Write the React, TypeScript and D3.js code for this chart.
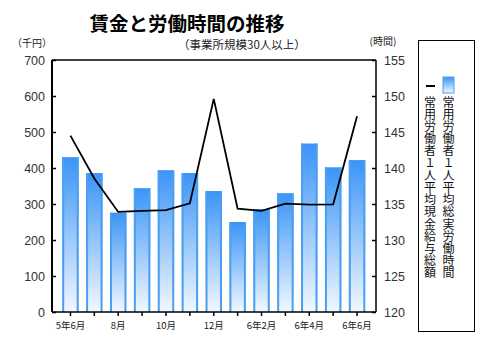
import React, { useRef, useEffect } from "react";
import * as d3 from "d3";

// months shown on the x axis (13 months)
const months = ["5年6月", "7月", "8月", "9月", "10月", "11月", "12月", "6年1月", "6年2月", "3月", "6年4月", "5月", "6年6月"];
const shownLabels = ["5年6月", "8月", "10月", "12月", "6年2月", "6年4月", "6年6月"];
const hours = [141.5, 139.3, 133.8, 137.2, 139.7, 139.3, 136.8, 132.5, 134.3, 136.5, 143.4, 140.1, 141.1];
const wages = [490, 371, 278, 281, 283, 302, 592, 287, 281, 301, 298, 299, 544];
const leftTicks = [0, 100, 200, 300, 400, 500, 600, 700];
const rightTicks = [120, 125, 130, 135, 140, 145, 150, 155];

const JP = "'Noto Sans CJK JP', 'Noto Sans', sans-serif";
const NUM = "'Liberation Sans', Arial, sans-serif";

const App = () => {
  const svgRef = useRef<SVGSVGElement>(null);

  useEffect(() => {
    const svg = d3.select(svgRef.current);
    svg.selectAll("*").remove();

    const left = 52, right = 376, top = 60, bottom = 312;

    const x = d3.scaleBand().domain(months).range([58.5, 369]).paddingInner(0.31).paddingOuter(0.155);
    const yL = d3.scaleLinear().domain([0, 700]).range([bottom, top]);
    const yR = d3.scaleLinear().domain([120, 155]).range([bottom, top]);

    const defs = svg.append("defs");
    const grad = defs.append("linearGradient").attr("id", "barGrad")
      .attr("x1", 0).attr("y1", 0).attr("x2", 0).attr("y2", 1);
    grad.append("stop").attr("offset", "0%").attr("stop-color", "#3a94f6");
    grad.append("stop").attr("offset", "100%").attr("stop-color", "#f2f8ff");

    // title
    svg.append("text").attr("x", 187).attr("y", 30.5).attr("text-anchor", "middle")
      .attr("font-family", JP).attr("font-weight", "bold").attr("font-size", 19.5)
      .attr("fill", "#000").text("賃金と労働時間の推移");
    svg.append("text").attr("x", 242).attr("y", 48.5).attr("text-anchor", "middle")
      .attr("font-family", JP).attr("font-size", 11.5).attr("fill", "#222").text("（事業所規模30人以上）");
    svg.append("text").attr("x", 32).attr("y", 47).attr("text-anchor", "middle")
      .attr("font-family", JP).attr("font-size", 10).attr("fill", "#222").text("（千円）");
    svg.append("text").attr("x", 383).attr("y", 45).attr("text-anchor", "middle")
      .attr("font-family", JP).attr("font-size", 10).attr("fill", "#222").text("(時間)");

    // bars (hours, right axis)
    const bars = svg.append("g");
    months.forEach((m, i) => {
      const bx = x(m)!;
      const bw = x.bandwidth();
      const by = yR(hours[i]);
      bars.append("rect").attr("x", bx).attr("y", by).attr("width", bw).attr("height", bottom - by)
        .attr("fill", "url(#barGrad)");
      bars.append("rect").attr("x", bx).attr("y", by).attr("width", 2).attr("height", bottom - by)
        .attr("fill", "#4a9ff2");
      bars.append("rect").attr("x", bx + bw - 2).attr("y", by).attr("width", 2).attr("height", bottom - by)
        .attr("fill", "#4a9ff2");
    });

    // wage line (left axis)
    const line = d3.line<number>()
      .x((d, i) => x(months[i])! + x.bandwidth() / 2)
      .y(d => yL(d));
    svg.append("path").datum(wages).attr("d", line).attr("fill", "none")
      .attr("stroke", "#000").attr("stroke-width", 1.8);

    // frame
    svg.append("line").attr("x1", left).attr("x2", right).attr("y1", top).attr("y2", top)
      .attr("stroke", "#000").attr("stroke-width", 1.5);

    const axL = svg.append("g").attr("transform", `translate(${left},0)`)
      .call(d3.axisRight(yL).tickValues(leftTicks).tickSize(4).tickFormat(() => ""));
    axL.select(".domain").attr("stroke-width", 2).attr("d", `M0,${top}V${bottom}`);
    axL.selectAll(".tick line").attr("stroke-width", 1.5);
    svg.append("g").selectAll("text").data(leftTicks).enter().append("text")
      .attr("x", 45).attr("y", d => yL(d) + 4.5).attr("text-anchor", "end")
      .attr("font-family", NUM).attr("font-size", 12.5).attr("fill", "#333").text(d => d);

    const axR = svg.append("g").attr("transform", `translate(${right},0)`)
      .call(d3.axisLeft(yR).tickValues(rightTicks).tickSize(4).tickFormat(() => ""));
    axR.select(".domain").attr("stroke-width", 1.5).attr("d", `M0,${top}V${bottom}`);
    axR.selectAll(".tick line").attr("stroke-width", 1.5);
    svg.append("g").selectAll("text").data(rightTicks).enter().append("text")
      .attr("x", 384).attr("y", d => yR(d) + 4.5).attr("text-anchor", "start")
      .attr("font-family", NUM).attr("font-size", 12.5).attr("fill", "#333").text(d => d);

    const axB = svg.append("g").attr("transform", `translate(0,${bottom})`)
      .call(d3.axisBottom(x).tickSize(4).tickFormat(() => ""));
    axB.select(".domain").attr("stroke-width", 1.5).attr("d", `M${left},0H${right}`);
    axB.selectAll(".tick line").attr("stroke-width", 1.5);
    svg.append("g").selectAll("text").data(months.filter(m => shownLabels.includes(m))).enter().append("text")
      .attr("x", d => x(d)! + x.bandwidth() / 2).attr("y", 329).attr("text-anchor", "middle")
      .attr("font-family", JP).attr("font-size", 9.5).attr("fill", "#222").text(d => d);

    // legend
    const lg = svg.append("g");
    lg.append("rect").attr("x", 418.5).attr("y", 40.5).attr("width", 56).attr("height", 291)
      .attr("fill", "#fff").attr("stroke", "#000").attr("stroke-width", 1);
    lg.append("line").attr("x1", 426).attr("x2", 435).attr("y1", 86).attr("y2", 86)
      .attr("stroke", "#000").attr("stroke-width", 2);
    lg.append("rect").attr("x", 443).attr("y", 77).attr("width", 11).attr("height", 16)
      .attr("fill", "url(#barGrad)").attr("stroke", "#4a9ff2").attr("stroke-width", 1);
    const legendText = [
      { x: 430, label: "常用労働者１人平均現金給与総額" },
      { x: 448.5, label: "常用労働者１人平均総実労働時間" },
    ];
    lg.selectAll(".lt").data(legendText).enter().append("text")
      .attr("class", "lt")
      .attr("x", d => d.x).attr("y", 96)
      .style("writing-mode", "vertical-rl")
      .attr("font-family", JP).attr("font-size", 12).attr("fill", "#111")
      .attr("letter-spacing", 0.2)
      .text(d => d.label);
  }, []);

  return <svg ref={svgRef} width={481} height={353} style={{ display: "block", position: "absolute", left: 0, top: 0 }}></svg>;
};

export default App;
